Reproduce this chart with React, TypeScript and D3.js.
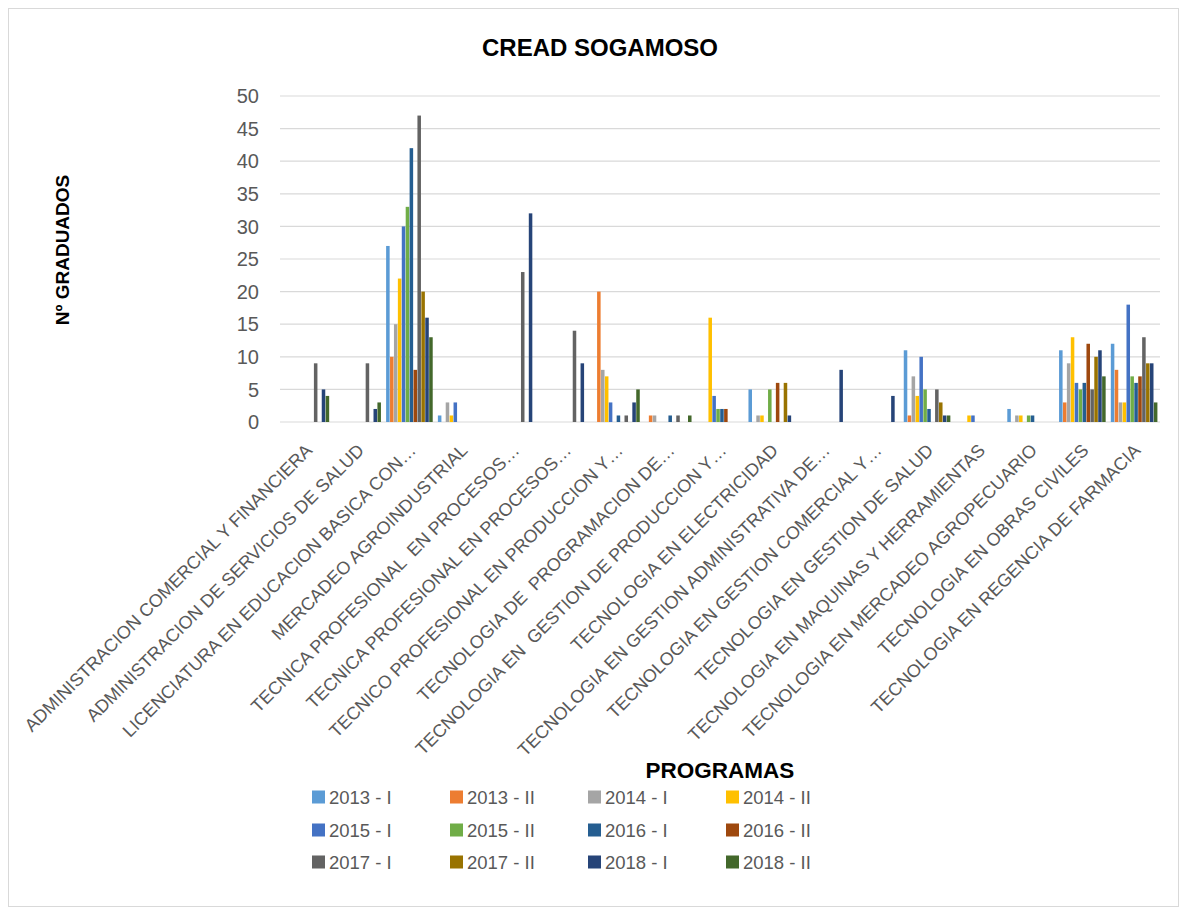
import React from "react";
import * as d3 from "d3";

const categories: string[] = [
  "ADMINISTRACION COMERCIAL Y FINANCIERA",
  "ADMINISTRACION DE SERVICIOS DE SALUD",
  "LICENCIATURA EN EDUCACION BASICA CON…",
  "MERCADEO AGROINDUSTRIAL",
  "TECNICA PROFESIONAL  EN PROCESOS…",
  "TECNICA PROFESIONAL EN PROCESOS…",
  "TECNICO PROFESIONAL EN PRODUCCION Y…",
  "TECNOLOGIA DE  PROGRAMACION DE…",
  "TECNOLOGIA EN  GESTION DE PRODUCCION Y…",
  "TECNOLOGIA EN ELECTRICIDAD",
  "TECNOLOGIA EN GESTION ADMINISTRATIVA DE…",
  "TECNOLOGIA EN GESTION COMERCIAL Y…",
  "TECNOLOGIA EN GESTION DE SALUD",
  "TECNOLOGIA EN MAQUINAS Y HERRAMIENTAS",
  "TECNOLOGIA EN MERCADEO AGROPECUARIO",
  "TECNOLOGIA EN OBRAS CIVILES",
  "TECNOLOGIA EN REGENCIA DE FARMACIA",
];

const seriesNames: string[] = [
  "2013 - I", "2013 - II", "2014 - I", "2014 - II",
  "2015 - I", "2015 - II", "2016 - I", "2016 - II",
  "2017 - I", "2017 - II", "2018 - I", "2018 - II",
];

const seriesColors: string[] = [
  "#5B9BD5", "#ED7D31", "#A5A5A5", "#FFC000",
  "#4472C4", "#70AD47", "#255E91", "#9E480E",
  "#636363", "#997300", "#264478", "#43682B",
];

// values per category, in series order
const s2013I = [0, 0, 27, 1, 0, 0, 0, 0, 0, 5, 0, 0, 11, 0, 2, 11, 12];
const s2013II = [0, 0, 10, 0, 0, 0, 20, 1, 0, 0, 0, 0, 1, 0, 0, 3, 8];
const s2014I = [0, 0, 15, 3, 0, 0, 8, 1, 0, 1, 0, 0, 7, 0, 1, 9, 3];
const s2014II = [0, 0, 22, 1, 0, 0, 7, 0, 16, 1, 0, 0, 4, 1, 1, 13, 3];
const s2015I = [0, 0, 30, 3, 0, 0, 3, 0, 4, 0, 0, 0, 10, 1, 0, 6, 18];
const s2015II = [0, 0, 33, 0, 0, 0, 0, 0, 2, 5, 0, 0, 5, 0, 1, 5, 7];
const s2016I = [0, 0, 42, 0, 0, 0, 1, 1, 2, 0, 0, 0, 2, 0, 1, 6, 6];
const s2016II = [0, 0, 8, 0, 0, 0, 0, 0, 2, 6, 0, 0, 0, 0, 0, 12, 7];
const s2017I = [9, 9, 47, 0, 23, 14, 1, 1, 0, 0, 0, 0, 5, 0, 0, 5, 13];
const s2017II = [0, 0, 20, 0, 0, 0, 0, 0, 0, 6, 0, 0, 3, 0, 0, 10, 9];
const s2018I = [5, 2, 16, 0, 32, 9, 3, 0, 0, 1, 8, 4, 1, 0, 0, 11, 9];
const s2018II = [4, 3, 13, 0, 0, 0, 5, 1, 0, 0, 0, 0, 1, 0, 0, 7, 3];

const seriesValues: number[][] = [
  s2013I, s2013II, s2014I, s2014II, s2015I, s2015II,
  s2016I, s2016II, s2017I, s2017II, s2018I, s2018II,
];

const yTicks: number[] = [0, 5, 10, 15, 20, 25, 30, 35, 40, 45, 50];

const W = 1187;
const H = 915;
const plot = { left: 280, right: 1160, top: 96, bottom: 422 };
const FONT = "'Liberation Sans', Arial, sans-serif";
const TEXT = "#595959";

export default function App() {
  const x0 = d3
    .scaleBand<string>()
    .domain(categories)
    .range([plot.left, plot.right])
    .paddingInner(0.1)
    .paddingOuter(0.05);
  const x1 = d3
    .scaleBand<string>()
    .domain(seriesNames)
    .range([0, x0.bandwidth()])
    .paddingInner(0.1);
  const y = d3.scaleLinear().domain([0, 50]).range([plot.bottom, plot.top]);

  const legendCols = [312, 450, 588, 726];
  const legendRows = [797, 830, 862];

  return (
    <svg
      width={W}
      height={H}
      style={{ position: "absolute", left: 0, top: 0, background: "#fff" }}
      fontFamily={FONT}
    >
      <rect x={8.5} y={8.5} width={1170} height={898} fill="#fff" stroke="#D9D9D9" />
      <text x={600} y={56} textAnchor="middle" fontSize={24} fontWeight="bold" fill="#000">
        CREAD SOGAMOSO
      </text>
      {yTicks.map((t) => (
        <g key={t}>
          <line
            x1={plot.left}
            x2={plot.right}
            y1={y(t)}
            y2={y(t)}
            stroke="#D9D9D9"
            strokeWidth={1.2}
          />
          <text x={259} y={y(t)} dy="0.36em" textAnchor="end" fontSize={20} fill={TEXT}>
            {t}
          </text>
        </g>
      ))}
      {seriesValues.map((vals, si) =>
        vals.map((v, ci) =>
          v > 0 ? (
            <rect
              key={`${si}-${ci}`}
              x={(x0(categories[ci]) as number) + (x1(seriesNames[si]) as number)}
              y={y(v)}
              width={x1.bandwidth()}
              height={y(0) - y(v)}
              fill={seriesColors[si]}
            />
          ) : null
        )
      )}
      {categories.map((c) => {
        const cx = (x0(c) as number) + x0.bandwidth() / 2;
        return (
          <text
            key={c}
            transform={`translate(${cx + 3},${plot.bottom + 25}) rotate(-45)`}
            textAnchor="end"
            dy="0.35em"
            fontSize={18}
            fill={TEXT}
            style={{ whiteSpace: "pre" }}
          >
            {c}
          </text>
        );
      })}
      <text
        transform={`translate(69,250) rotate(-90)`}
        textAnchor="middle"
        fontSize={19}
        fontWeight="bold"
        fill="#000"
      >
        Nº GRADUADOS
      </text>
      <text x={720} y={778} textAnchor="middle" fontSize={22.5} fontWeight="bold" fill="#000">
        PROGRAMAS
      </text>
      {seriesNames.map((s, i) => {
        const lx = legendCols[i % 4];
        const ly = legendRows[Math.floor(i / 4)];
        return (
          <g key={s}>
            <rect x={lx} y={ly - 6.5} width={13} height={13} fill={seriesColors[i]} />
            <text x={lx + 17} y={ly} dy="0.36em" fontSize={18.5} fill={TEXT}>
              {s}
            </text>
          </g>
        );
      })}
    </svg>
  );
}
